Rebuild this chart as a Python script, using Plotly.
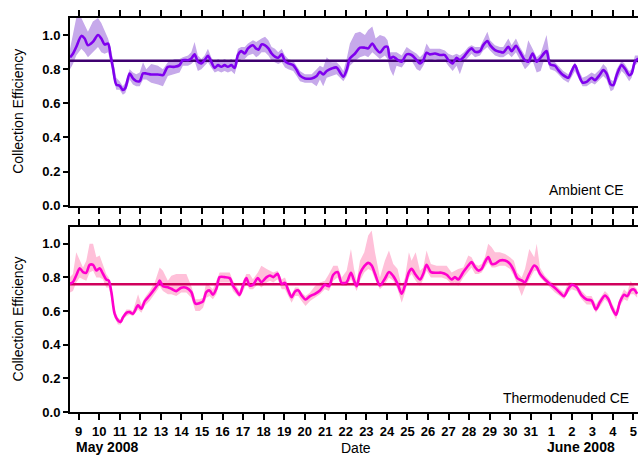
import datetime as dt
import plotly.graph_objects as go

# Time axis in May-2008 day numbers (day 32 = 1 June 2008)
amb_day = [8.58, 8.72, 8.88, 9.13, 9.29, 9.45, 9.69, 9.94, 10.10, 10.26,
           10.43, 10.55, 10.67, 10.83, 10.99, 11.15, 11.27, 11.48, 11.64, 11.80,
           11.97, 12.13, 12.29, 12.53, 12.86, 13.10, 13.34, 13.67, 13.91, 14.07,
           14.32, 14.48, 14.64, 14.80, 14.97, 15.13, 15.29, 15.45, 15.62, 15.78,
           15.94, 16.10, 16.26, 16.43, 16.59, 16.75, 16.91, 17.08, 17.24, 17.48,
           17.64, 17.76, 17.90, 18.07, 18.23, 18.39, 18.55, 18.71, 18.88, 19.04,
           19.20, 19.44, 19.61, 19.77, 20.01, 20.34, 20.58, 20.74, 20.90, 21.07,
           21.31, 21.55, 21.72, 21.88, 22.04, 22.20, 22.45, 22.69, 22.93, 23.09,
           23.29, 23.45, 23.66, 23.90, 24.03, 24.15, 24.31, 24.47, 24.72, 24.96,
           25.20, 25.45, 25.61, 25.77, 25.93, 26.09, 26.34, 26.58, 26.82, 26.99,
           27.20, 27.39, 27.55, 27.75, 27.96, 28.12, 28.29, 28.53, 28.69, 28.89,
           29.02, 29.26, 29.50, 29.66, 29.91, 30.07, 30.28, 30.47, 30.72, 30.88,
           31.09, 31.29, 31.48, 31.64, 31.77, 31.94, 32.18, 32.34, 32.58, 32.83,
           32.99, 33.15, 33.31, 33.52, 33.72, 33.96, 34.12, 34.37, 34.53, 34.69,
           34.89, 35.02, 35.18, 35.42, 35.58, 35.79, 35.91, 36.07, 36.23]
amb_ce = [0.87, 0.89, 0.93, 0.995, 0.98, 0.94, 0.96, 1.00, 0.98, 0.945,
          0.95, 0.88, 0.805, 0.71, 0.703, 0.678, 0.69, 0.775, 0.746, 0.73,
          0.73, 0.775, 0.775, 0.769, 0.769, 0.765, 0.814, 0.814, 0.824, 0.853,
          0.853, 0.863, 0.887, 0.844, 0.834, 0.853, 0.879, 0.844, 0.808, 0.824,
          0.814, 0.824, 0.814, 0.824, 0.808, 0.883, 0.906, 0.892, 0.922, 0.94,
          0.92, 0.915, 0.945, 0.94, 0.922, 0.892, 0.873, 0.867, 0.887, 0.847,
          0.834, 0.824, 0.795, 0.762, 0.746, 0.746, 0.76, 0.785, 0.769, 0.789,
          0.804, 0.81, 0.781, 0.756, 0.795, 0.863, 0.892, 0.926, 0.926, 0.922,
          0.951, 0.922, 0.898, 0.931, 0.931, 0.863, 0.873, 0.859, 0.844, 0.887,
          0.883, 0.853, 0.834, 0.853, 0.896, 0.887, 0.892, 0.883, 0.883, 0.853,
          0.834, 0.867, 0.853, 0.873, 0.906, 0.922, 0.902, 0.906, 0.941, 0.965,
          0.941, 0.912, 0.902, 0.898, 0.931, 0.906, 0.937, 0.902, 0.853, 0.844,
          0.892, 0.844, 0.867, 0.892, 0.906, 0.828, 0.82, 0.795, 0.765, 0.75,
          0.789, 0.824, 0.775, 0.722, 0.726, 0.75, 0.736, 0.769, 0.795, 0.775,
          0.711, 0.707, 0.765, 0.824, 0.804, 0.765, 0.775, 0.844, 0.863]
amb_hi = [0.92, 1.00, 1.10, 1.10, 1.06, 1.02, 1.08, 1.10, 1.07, 1.03,
          0.98, 0.93, 0.85, 0.75, 0.73, 0.70, 0.72, 0.80, 0.78, 0.77,
          0.78, 0.84, 0.80, 0.83, 0.82, 0.80, 0.84, 0.86, 0.86, 0.87,
          0.88, 0.90, 0.96, 0.88, 0.86, 0.88, 0.92, 0.87, 0.84, 0.86,
          0.85, 0.86, 0.85, 0.86, 0.84, 0.92, 0.93, 0.93, 0.95, 0.97,
          0.96, 0.97, 0.98, 0.99, 0.97, 0.93, 0.92, 0.90, 0.92, 0.88,
          0.86, 0.85, 0.82, 0.79, 0.77, 0.77, 0.80, 0.82, 0.81, 0.87,
          0.84, 0.84, 0.82, 0.79, 0.86, 0.95, 1.01, 1.02, 1.00, 1.03,
          1.05, 0.98, 1.00, 0.99, 0.97, 0.90, 0.90, 0.90, 0.88, 0.93,
          0.91, 0.89, 0.87, 0.89, 0.95, 0.92, 0.92, 0.92, 0.91, 0.89,
          0.88, 0.89, 0.88, 0.90, 0.93, 0.94, 0.93, 0.93, 0.97, 1.02,
          0.97, 0.94, 0.93, 0.93, 0.98, 0.94, 0.98, 0.93, 0.88, 0.97,
          0.92, 0.87, 0.89, 0.95, 1.00, 0.86, 0.84, 0.82, 0.79, 0.77,
          0.81, 0.84, 0.80, 0.75, 0.76, 0.78, 0.77, 0.80, 0.83, 0.81,
          0.74, 0.73, 0.80, 0.85, 0.83, 0.79, 0.80, 0.88, 0.88]
amb_lo = [0.80, 0.83, 0.88, 0.92, 0.90, 0.87, 0.90, 0.93, 0.90, 0.89,
          0.90, 0.84, 0.76, 0.68, 0.68, 0.65, 0.66, 0.74, 0.71, 0.70,
          0.70, 0.74, 0.74, 0.72, 0.71, 0.70, 0.76, 0.77, 0.78, 0.82,
          0.82, 0.83, 0.85, 0.79, 0.80, 0.82, 0.84, 0.81, 0.78, 0.79,
          0.78, 0.79, 0.78, 0.79, 0.77, 0.84, 0.86, 0.86, 0.88, 0.89,
          0.87, 0.88, 0.90, 0.90, 0.88, 0.85, 0.84, 0.83, 0.84, 0.81,
          0.80, 0.79, 0.76, 0.73, 0.72, 0.72, 0.70, 0.74, 0.70, 0.75,
          0.76, 0.77, 0.75, 0.73, 0.76, 0.82, 0.85, 0.87, 0.88, 0.87,
          0.90, 0.88, 0.86, 0.88, 0.86, 0.80, 0.76, 0.82, 0.81, 0.85,
          0.85, 0.80, 0.79, 0.82, 0.86, 0.85, 0.86, 0.85, 0.85, 0.82,
          0.79, 0.82, 0.77, 0.84, 0.87, 0.89, 0.87, 0.88, 0.91, 0.93,
          0.91, 0.88, 0.87, 0.87, 0.89, 0.87, 0.90, 0.86, 0.80, 0.82,
          0.85, 0.78, 0.79, 0.85, 0.86, 0.80, 0.79, 0.77, 0.74, 0.72,
          0.76, 0.79, 0.75, 0.70, 0.70, 0.72, 0.71, 0.74, 0.76, 0.74,
          0.67, 0.68, 0.73, 0.79, 0.77, 0.73, 0.75, 0.82, 0.84]
AMB_MEAN = 0.85

td_day = [8.56, 8.72, 8.88, 9.05, 9.21, 9.37, 9.53, 9.70, 9.86, 10.02,
          10.18, 10.34, 10.46, 10.59, 10.75, 10.91, 11.04, 11.16, 11.32, 11.48,
          11.64, 11.89, 12.05, 12.21, 12.45, 12.70, 12.86, 12.94, 13.10, 13.34,
          13.51, 13.75, 13.99, 14.24, 14.48, 14.68, 14.89, 15.05, 15.21, 15.37,
          15.53, 15.70, 15.86, 16.10, 16.35, 16.51, 16.67, 16.83, 17.00, 17.16,
          17.32, 17.48, 17.72, 17.89, 18.15, 18.31, 18.47, 18.68, 18.88, 19.04,
          19.20, 19.36, 19.53, 19.69, 19.85, 20.04, 20.26, 20.50, 20.74, 20.98,
          21.18, 21.39, 21.60, 21.80, 22.04, 22.25, 22.40, 22.53, 22.69, 22.90,
          23.09, 23.26, 23.42, 23.66, 23.90, 24.10, 24.31, 24.52, 24.72, 24.88,
          25.07, 25.20, 25.40, 25.61, 25.77, 25.93, 26.14, 26.42, 26.66, 26.91,
          27.15, 27.31, 27.47, 27.72, 27.96, 28.12, 28.29, 28.45, 28.61, 28.77,
          28.93, 29.10, 29.26, 29.50, 29.75, 29.99, 30.18, 30.34, 30.56, 30.72,
          30.93, 31.17, 31.29, 31.45, 31.69, 31.93, 32.18, 32.42, 32.62, 32.83,
          32.99, 33.23, 33.48, 33.72, 33.96, 34.17, 34.37, 34.61, 34.77, 34.94,
          35.15, 35.34, 35.54, 35.70, 35.86, 36.02, 36.18]
td_ce = [0.762, 0.772, 0.812, 0.855, 0.832, 0.828, 0.875, 0.875, 0.841, 0.855,
         0.822, 0.788, 0.782, 0.713, 0.584, 0.545, 0.535, 0.564, 0.59, 0.594,
         0.584, 0.634, 0.614, 0.658, 0.693, 0.733, 0.762, 0.782, 0.748, 0.742,
         0.733, 0.719, 0.739, 0.739, 0.713, 0.644, 0.648, 0.658, 0.713, 0.723,
         0.697, 0.733, 0.802, 0.802, 0.796, 0.752, 0.723, 0.697, 0.752, 0.796,
         0.752, 0.756, 0.796, 0.772, 0.802, 0.812, 0.802, 0.822, 0.762, 0.768,
         0.723, 0.683, 0.717, 0.723, 0.693, 0.669, 0.689, 0.703, 0.723, 0.756,
         0.748, 0.816, 0.832, 0.768, 0.772, 0.828, 0.782, 0.748, 0.822, 0.867,
         0.887, 0.871, 0.822, 0.752, 0.792, 0.832, 0.808, 0.762, 0.703, 0.752,
         0.832, 0.851, 0.816, 0.788, 0.822, 0.875, 0.832, 0.828, 0.828, 0.816,
         0.788, 0.802, 0.788, 0.832, 0.871, 0.891, 0.861, 0.841, 0.851, 0.891,
         0.921, 0.881, 0.881, 0.901, 0.901, 0.881, 0.841, 0.796, 0.782, 0.772,
         0.822, 0.871, 0.861, 0.822, 0.788, 0.762, 0.737, 0.709, 0.689, 0.733,
         0.756, 0.743, 0.693, 0.669, 0.663, 0.61, 0.654, 0.693, 0.673, 0.624,
         0.578, 0.654, 0.697, 0.689, 0.723, 0.729, 0.703]
td_hi = [0.80, 0.82, 0.95, 0.90, 0.86, 0.90, 1.00, 1.00, 0.92, 0.93,
         0.87, 0.82, 0.80, 0.74, 0.61, 0.56, 0.55, 0.58, 0.61, 0.61,
         0.60, 0.70, 0.64, 0.68, 0.72, 0.77, 0.83, 0.86, 0.84, 0.78,
         0.81, 0.82, 0.82, 0.82, 0.75, 0.67, 0.67, 0.68, 0.77, 0.75,
         0.73, 0.78, 0.83, 0.83, 0.83, 0.78, 0.75, 0.72, 0.78, 0.82,
         0.82, 0.79, 0.83, 0.87, 0.85, 0.84, 0.83, 0.84, 0.79, 0.80,
         0.75, 0.70, 0.74, 0.74, 0.71, 0.69, 0.71, 0.75, 0.77, 0.78,
         0.82, 0.87, 0.87, 0.80, 0.84, 0.97, 0.85, 0.78, 0.90, 0.95,
         1.05, 1.08, 0.95, 0.80, 0.90, 0.96, 0.88, 0.85, 0.74, 0.80,
         0.95, 0.90, 0.95, 0.84, 0.86, 0.96, 0.88, 0.87, 0.87, 0.87,
         0.83, 0.84, 0.85, 0.86, 0.93, 0.92, 0.88, 0.87, 0.88, 0.92,
         1.00, 0.98, 0.95, 0.95, 0.94, 0.92, 0.90, 0.83, 0.80, 0.85,
         0.97, 0.92, 1.00, 0.86, 0.81, 0.78, 0.76, 0.73, 0.71, 0.77,
         0.77, 0.76, 0.72, 0.69, 0.69, 0.64, 0.68, 0.72, 0.70, 0.65,
         0.60, 0.68, 0.73, 0.71, 0.78, 0.75, 0.73]
td_lo = [0.71, 0.72, 0.77, 0.80, 0.79, 0.78, 0.83, 0.84, 0.80, 0.80,
         0.79, 0.74, 0.74, 0.68, 0.56, 0.52, 0.52, 0.55, 0.57, 0.58,
         0.57, 0.61, 0.59, 0.63, 0.66, 0.70, 0.73, 0.75, 0.72, 0.70,
         0.70, 0.69, 0.71, 0.71, 0.68, 0.60, 0.60, 0.62, 0.68, 0.69,
         0.67, 0.70, 0.77, 0.77, 0.77, 0.72, 0.70, 0.68, 0.72, 0.76,
         0.73, 0.73, 0.76, 0.74, 0.77, 0.78, 0.77, 0.79, 0.73, 0.73,
         0.69, 0.65, 0.69, 0.69, 0.66, 0.63, 0.66, 0.68, 0.70, 0.73,
         0.72, 0.78, 0.80, 0.75, 0.75, 0.79, 0.75, 0.72, 0.78, 0.83,
         0.85, 0.84, 0.79, 0.73, 0.76, 0.80, 0.78, 0.73, 0.65, 0.71,
         0.80, 0.82, 0.78, 0.75, 0.79, 0.84, 0.80, 0.80, 0.80, 0.79,
         0.76, 0.77, 0.75, 0.80, 0.84, 0.86, 0.82, 0.82, 0.83, 0.86,
         0.89, 0.86, 0.86, 0.87, 0.87, 0.85, 0.81, 0.76, 0.69, 0.74,
         0.79, 0.84, 0.84, 0.80, 0.77, 0.74, 0.71, 0.69, 0.67, 0.71,
         0.73, 0.72, 0.67, 0.64, 0.64, 0.59, 0.63, 0.67, 0.65, 0.60,
         0.55, 0.63, 0.67, 0.66, 0.70, 0.70, 0.68]
TD_MEAN = 0.76

tick_days = list(range(9, 37))
tick_labels = ["9", "10", "11", "12", "13", "14", "15", "16", "17", "18",
               "19", "20", "21", "22", "23", "24", "25", "26", "27", "28",
               "29", "30", "31", "1", "2", "3", "4", "5"]
X_START, X_END = 8.577, 36.22


def to_time(d):
    return dt.datetime(2008, 5, 1) + dt.timedelta(days=d - 1)


def times(days):
    return [to_time(d) for d in days]


FONT = "Liberation Sans, Arial, sans-serif"

fig = go.Figure()


def add_panel(days, ce, hi, lo, mean, xa, ya, line_col, band_col, mean_col):
    t = times(days)
    fig.add_trace(go.Scatter(x=t, y=lo, mode="lines", line=dict(width=0),
                             xaxis=xa, yaxis=ya, showlegend=False, hoverinfo="skip"))
    fig.add_trace(go.Scatter(x=t, y=hi, mode="lines", line=dict(width=0),
                             fill="tonexty", fillcolor=band_col,
                             xaxis=xa, yaxis=ya, showlegend=False, hoverinfo="skip"))
    fig.add_trace(go.Scatter(x=times([X_START, X_END]), y=[mean, mean], mode="lines",
                             line=dict(color=mean_col, width=2.5),
                             xaxis=xa, yaxis=ya, showlegend=False))
    fig.add_trace(go.Scatter(x=t, y=ce, mode="lines",
                             line=dict(color=line_col, width=2.6, shape="spline", smoothing=0.8),
                             xaxis=xa, yaxis=ya, showlegend=False))


add_panel(amb_day, amb_ce, amb_hi, amb_lo, AMB_MEAN, "x", "y",
          "#7f00ee", "#c6a9ea", "#3f0070")
add_panel(td_day, td_ce, td_hi, td_lo, TD_MEAN, "x2", "y2",
          "#ff00cc", "#ffc0d9", "#d0005c")

xcommon = dict(type="date", range=[to_time(X_START), to_time(X_END)],
               tickvals=times(tick_days), ticktext=tick_labels,
               showline=True, linecolor="black", linewidth=2, mirror="ticks",
               ticks="outside", ticklen=6, tickwidth=2, tickcolor="black",
               showgrid=False, zeroline=False,
               tickfont=dict(family=FONT, size=13, color="black", weight="bold"))
ycommon = dict(range=[0, 1.1], tickvals=[0, 0.2, 0.4, 0.6, 0.8, 1.0],
               tickformat=".1f", showline=True, linecolor="black", linewidth=2,
               ticks="outside", ticklen=5, tickwidth=2, tickcolor="black",
               showgrid=False, zeroline=False,
               tickfont=dict(family=FONT, size=13, color="black", weight="bold"))

fig.update_layout(
    width=638, height=456,
    margin=dict(l=70, r=0, t=18, b=44),
    paper_bgcolor="white", plot_bgcolor="white",
    font=dict(family=FONT, color="black"),
    xaxis=dict(xcommon, anchor="y", domain=[0, 1], showticklabels=False),
    yaxis=dict(ycommon, anchor="x", domain=[0.5236, 1]),
    xaxis2=dict(xcommon, anchor="y2", domain=[0, 1], matches="x"),
    yaxis2=dict(ycommon, anchor="x2", domain=[0, 0.4695]),
)

for yc in (0.762, 0.235):
    fig.add_annotation(text="Collection Efficiency", textangle=-90,
                       xref="paper", yref="paper", x=-0.0915, y=yc,
                       xanchor="center", yanchor="middle", showarrow=False,
                       font=dict(family=FONT, size=14, color="black"))

fig.add_annotation(text="Ambient CE", xref="paper", yref="paper", x=0.979, y=0.5635,
                   xanchor="right", yanchor="middle", showarrow=False,
                   font=dict(family=FONT, size=14, color="black"))
fig.add_annotation(text="Thermodenuded CE", xref="paper", yref="paper", x=0.988, y=0.0355,
                   xanchor="right", yanchor="middle", showarrow=False,
                   font=dict(family=FONT, size=14, color="black"))

fig.add_annotation(text="May 2008", xref="x2", yref="paper", x=to_time(8.77), y=-0.088,
                   xanchor="left", yanchor="middle", showarrow=False,
                   font=dict(family=FONT, size=14, color="black", weight="bold"))
fig.add_annotation(text="June 2008", xref="x2", yref="paper", x=to_time(31.69), y=-0.088,
                   xanchor="left", yanchor="middle", showarrow=False,
                   font=dict(family=FONT, size=14, color="black", weight="bold"))
fig.add_annotation(text="Date", xref="paper", yref="paper", x=0.503, y=-0.091,
                   xanchor="center", yanchor="middle", showarrow=False,
                   font=dict(family=FONT, size=14, color="black"))

fig.write_html("out.html")
